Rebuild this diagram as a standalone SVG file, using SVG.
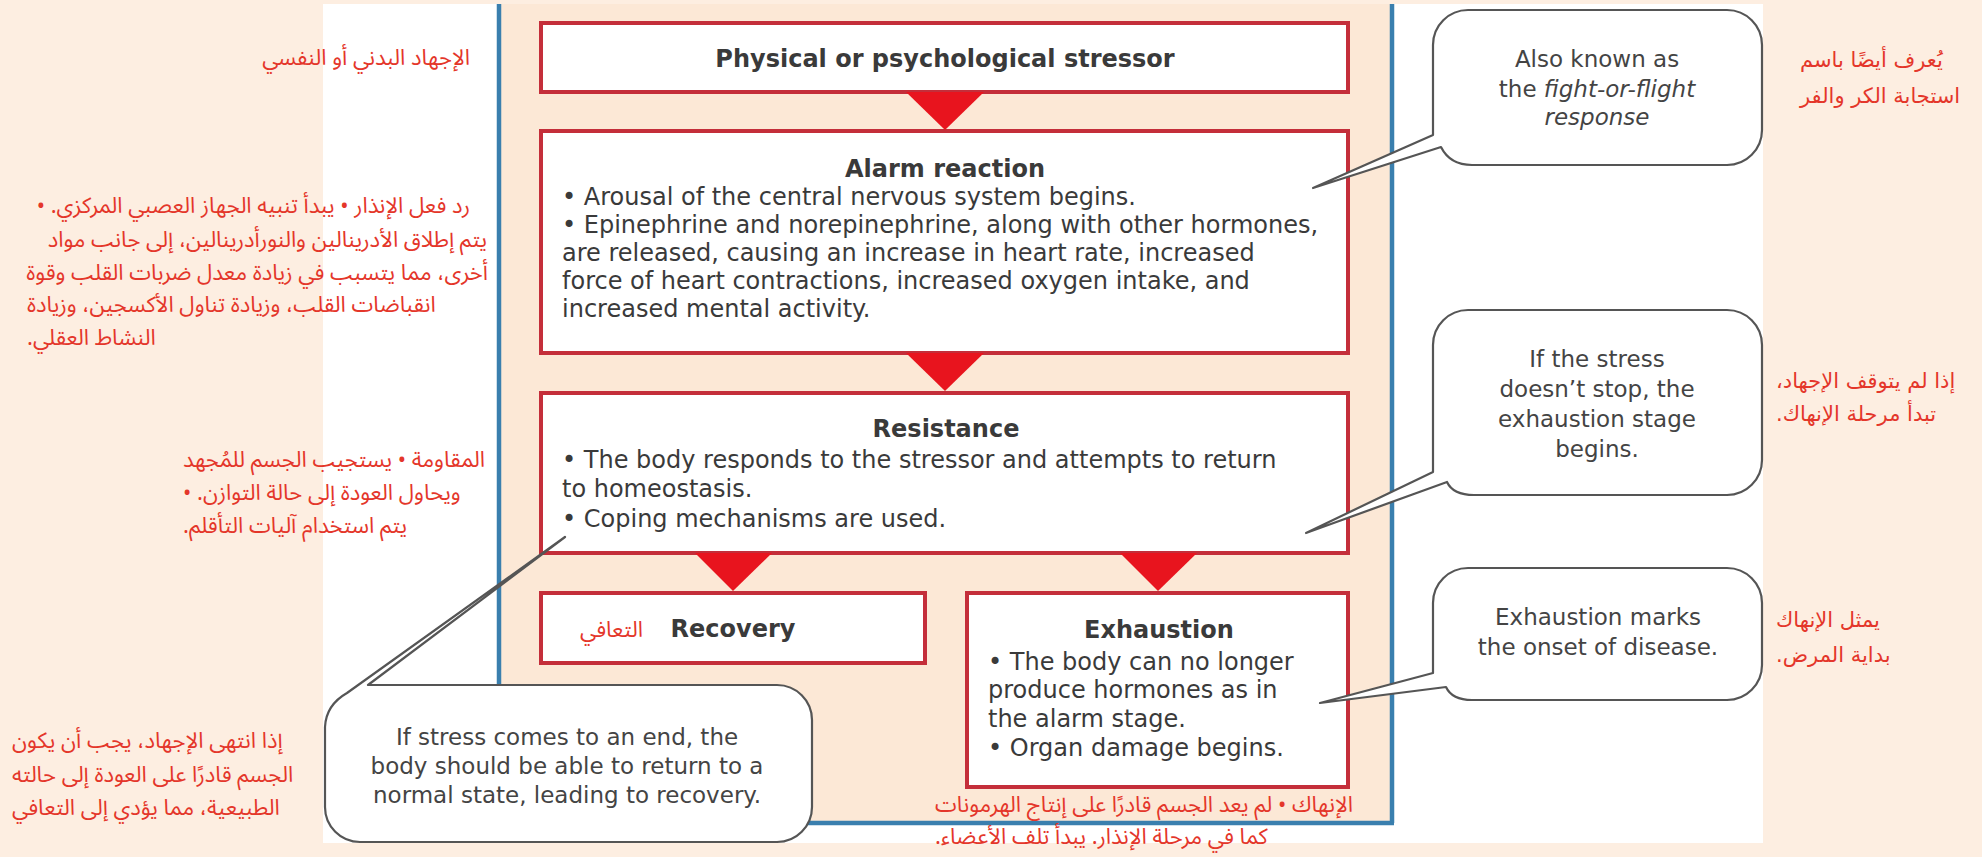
<svg xmlns="http://www.w3.org/2000/svg" width="1982" height="857" viewBox="0 0 1982 857">
<defs>
<style>
.en{font-family:"DejaVu Sans","Liberation Sans",sans-serif;fill:#3a3a3a}
.t{font-size:24px;font-weight:bold;text-anchor:middle}
.b{font-size:24px}
.c{font-size:23px;fill:#444;text-anchor:middle}
.ar{font-family:"Noto Sans Arabic","DejaVu Sans",sans-serif;fill:#e4362a;font-size:22px;direction:rtl}
.ar2{font-family:"DejaVu Sans","Noto Sans Arabic",sans-serif;fill:#e4362a;font-size:21px;direction:rtl}
.box{fill:#fff;stroke:#c42e3a;stroke-width:4}
.tri{fill:#e8141e}
.bub{fill:#fff;stroke:#555;stroke-width:2.2;stroke-linejoin:round}
.blue{stroke:#3a7fae;stroke-width:4.5;fill:none}
</style>
</defs>
<rect x="0" y="0" width="1982" height="857" fill="#fdeee1"/>
<rect x="323" y="4" width="1440" height="839" fill="#fff"/>
<rect x="499" y="4" width="893" height="819" fill="#fce8d6"/>
<g id="frame">
<line class="blue" x1="499" y1="4" x2="499" y2="823"/>
<line class="blue" x1="1392" y1="4" x2="1392" y2="823"/>
<line class="blue" x1="499" y1="823" x2="1394" y2="823"/>
</g>

<g id="stressor">
<rect class="box" x="541" y="23" width="807" height="69"/>
<text class="en t" x="945" y="67">Physical or psychological stressor</text>
</g>

<g id="alarm">
<rect class="box" x="541" y="131" width="807" height="222"/>
<text class="en t" x="945" y="177">Alarm reaction</text>
<text class="en b" x="562" y="205">• Arousal of the central nervous system begins.</text>
<text class="en b" x="562" y="233">• Epinephrine and norepinephrine, along with other hormones,</text>
<text class="en b" x="562" y="261">are released, causing an increase in heart rate, increased</text>
<text class="en b" x="562" y="289">force of heart contractions, increased oxygen intake, and</text>
<text class="en b" x="562" y="317">increased mental activity.</text>
</g>

<g id="resistance">
<rect class="box" x="541" y="393" width="807" height="160"/>
<text class="en t" x="946" y="437">Resistance</text>
<text class="en b" x="562" y="468">• The body responds to the stressor and attempts to return</text>
<text class="en b" x="562" y="497">to homeostasis.</text>
<text class="en b" x="562" y="527">• Coping mechanisms are used.</text>
</g>

<g id="recovery">
<rect class="box" x="541" y="593" width="384" height="70"/>
<text class="en t" x="733" y="637">Recovery</text>
<text class="ar" x="643" y="637" text-anchor="start">التعافي</text>
</g>

<g id="exhaustion">
<rect class="box" x="967" y="593" width="381" height="194"/>
<text class="en t" x="1159" y="638">Exhaustion</text>
<text class="en b" x="988" y="670">• The body can no longer</text>
<text class="en b" x="988" y="698">produce hormones as in</text>
<text class="en b" x="988" y="727">the alarm stage.</text>
<text class="en b" x="988" y="756">• Organ damage begins.</text>
</g>

<g id="connectors">
<polygon class="tri" points="906,92 984,92 945,130"/>
<polygon class="tri" points="906,353 984,353 945,391"/>
<polygon class="tri" points="695,553 772,553 733,591"/>
<polygon class="tri" points="1120,553 1197,553 1158,591"/>
</g>

<g id="callout-fight">
<path class="bub" d="M 1468 10 H 1727 A 35 35 0 0 1 1762 45 V 130 A 35 35 0 0 1 1727 165 H 1472 Q 1450 165 1441 147 L 1313 188 L 1433 135 V 45 A 35 35 0 0 1 1468 10 Z"/>
<text class="en c" x="1597" y="67">Also known as</text>
<text class="en c" x="1597" y="97">the <tspan font-style="italic">fight-or-flight</tspan></text>
<text class="en c" x="1597" y="125" font-style="italic">response</text>
</g>

<g id="callout-stress">
<path class="bub" d="M 1468 310 H 1727 A 35 35 0 0 1 1762 345 V 460 A 35 35 0 0 1 1727 495 H 1474 Q 1453 495 1447 482 L 1306 533 L 1433 472 V 345 A 35 35 0 0 1 1468 310 Z"/>
<text class="en c" x="1597" y="367">If the stress</text>
<text class="en c" x="1597" y="397">doesn’t stop, the</text>
<text class="en c" x="1597" y="427">exhaustion stage</text>
<text class="en c" x="1597" y="457">begins.</text>
</g>

<g id="callout-disease">
<path class="bub" d="M 1468 568 H 1727 A 35 35 0 0 1 1762 603 V 665 A 35 35 0 0 1 1727 700 H 1472 Q 1452 700 1446 687 L 1320 703 L 1433 673 V 603 A 35 35 0 0 1 1468 568 Z"/>
<text class="en c" x="1598" y="625">Exhaustion marks</text>
<text class="en c" x="1598" y="655">the onset of disease.</text>
</g>

<g id="callout-recovery">
<path class="bub" d="M 368 685 H 777 A 35 35 0 0 1 812 720 V 807 A 35 35 0 0 1 777 842 H 360 A 35 35 0 0 1 325 807 V 727 Q 326 705 347 693 L 565 537 L 368 685 Z"/>
<text class="en c" x="567" y="745">If stress comes to an end, the</text>
<text class="en c" x="567" y="774">body should be able to return to a</text>
<text class="en c" x="567" y="803">normal state, leading to recovery.</text>
</g>

<g id="arabic-left">
<text class="ar" x="470" y="65" text-anchor="start">الإجهاد البدني أو النفسي</text>
<text class="ar" x="470" y="213" text-anchor="start">رد فعل الإنذار • يبدأ تنبيه الجهاز العصبي المركزي. •</text>
<text class="ar" x="487" y="247" text-anchor="start">يتم إطلاق الأدرينالين والنورأدرينالين، إلى جانب مواد</text>
<text class="ar" x="488" y="280" text-anchor="start">أخرى، مما يتسبب في زيادة معدل ضربات القلب وقوة</text>
<text class="ar" x="27" y="312" text-anchor="end">انقباضات القلب، وزيادة تناول الأكسجين، وزيادة</text>
<text class="ar" x="27" y="345" text-anchor="end">النشاط العقلي.</text>
<text class="ar" x="183" y="467" text-anchor="end">المقاومة • يستجيب الجسم للمُجهد</text>
<text class="ar" x="183" y="500" text-anchor="end">ويحاول العودة إلى حالة التوازن. •</text>
<text class="ar" x="183" y="533" text-anchor="end">يتم استخدام آليات التأقلم.</text>
<text class="ar" x="12" y="748" text-anchor="end">إذا انتهى الإجهاد، يجب أن يكون</text>
<text class="ar" x="12" y="782" text-anchor="end">الجسم قادرًا على العودة إلى حالته</text>
<text class="ar" x="12" y="815" text-anchor="end">الطبيعية، مما يؤدي إلى التعافي</text>
</g>

<g id="arabic-bottom">
<text class="ar" x="935" y="812" text-anchor="end">الإنهاك • لم يعد الجسم قادرًا على إنتاج الهرمونات</text>
<text class="ar" x="935" y="844" text-anchor="end">كما في مرحلة الإنذار. يبدأ تلف الأعضاء.</text>
</g>

<g id="arabic-right">
<text class="ar2" x="1800" y="67" text-anchor="end">يُعرف أيضًا باسم</text>
<text class="ar2" x="1800" y="103" text-anchor="end">استجابة الكر والفر</text>
<text class="ar2" x="1776" y="388" text-anchor="end">إذا لم يتوقف الإجهاد،</text>
<text class="ar2" x="1776" y="421" text-anchor="end">تبدأ مرحلة الإنهاك.</text>
<text class="ar2" x="1776" y="627" text-anchor="end">يمثل الإنهاك</text>
<text class="ar2" x="1776" y="662" text-anchor="end">بداية المرض.</text>
</g>
</svg>
